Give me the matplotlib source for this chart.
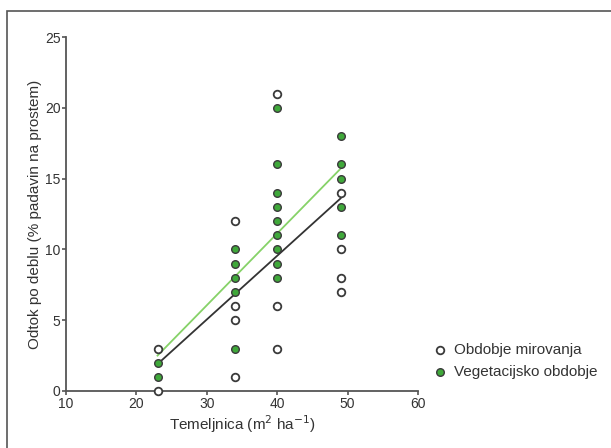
import numpy as np
import matplotlib.pyplot as plt
from matplotlib.patches import Rectangle

plt.rcParams['font.family'] = ['Liberation Sans', 'DejaVu Sans']

# basal area (m2/ha) and stemflow (% of open rainfall)
mir_x = [23, 23, 34, 34, 34, 34, 40, 40, 40, 49, 49, 49, 49]
mir_y = [3, 0, 12, 6, 5, 1, 21, 6, 3, 14, 10, 8, 7]
veg_x = [23, 23, 34, 34, 34, 34, 34,
         40, 40, 40, 40, 40, 40, 40, 40, 40,
         49, 49, 49, 49, 49]
veg_y = [2, 1, 10, 9, 8, 7, 3,
         20, 16, 14, 13, 12, 11, 10, 9, 8,
         18, 16, 15, 13, 11]

# regression lines (end points)
fit_x = [23, 49]
fit_mir = [1.9, 13.6]
fit_veg = [2.5, 15.7]

GREEN = '#3fa83a'
LINE_GREEN = '#86d268'
EDGE = '#3a3a3a'

fig = plt.figure(figsize=(6.11, 4.48), dpi=100)
fig.patches.append(Rectangle((7 / 611, -0.2), 1.2, 1.2 - 10.5 / 448,
                             transform=fig.transFigure, fill=False,
                             edgecolor='#555555', linewidth=1.2))
ax = fig.add_axes([66 / 611, 1 - 391 / 448, 352 / 611, 354 / 448])

ax.plot(fit_x, fit_mir, color='#333333', lw=1.3, zorder=2)
ax.plot(fit_x, fit_veg, color=LINE_GREEN, lw=1.3, zorder=2)

ax.scatter(mir_x, mir_y, s=30, facecolor='white', edgecolor=EDGE,
           linewidth=1.3, zorder=3, label='Obdobje mirovanja', clip_on=False)
ax.scatter(veg_x, veg_y, s=30, facecolor=GREEN, edgecolor=EDGE,
           linewidth=1.0, zorder=4, label='Vegetacijsko obdobje', clip_on=False)

ax.set_xlim(10, 60)
ax.set_ylim(0, 25)
ax.set_xticks(np.arange(10, 61, 10))
ax.set_yticks(np.arange(0, 26, 5))
for side in ['top', 'right']:
    ax.spines[side].set_visible(False)
for side in ['left', 'bottom']:
    ax.spines[side].set_color('#555555')
    ax.spines[side].set_linewidth(1.3)
ax.tick_params(length=3, width=1.2, color='#555555', labelsize=10,
               labelcolor='#333333', pad=1)

ax.set_xlabel('Temeljnica (m$^2$ ha$^{-1}$)', fontsize=11, color='#333333',
              labelpad=2)
ax.set_ylabel('Odtok po deblu (% padavin na prostem)', fontsize=11,
              color='#333333', labelpad=2)

ax.legend(loc='center left', bbox_to_anchor=(1.02, 0.085), frameon=False,
          fontsize=11, handletextpad=0.3, labelspacing=0.5, borderaxespad=0,
          handlelength=1.2, labelcolor='#333333')

fig.savefig('out.png', dpi=100)
